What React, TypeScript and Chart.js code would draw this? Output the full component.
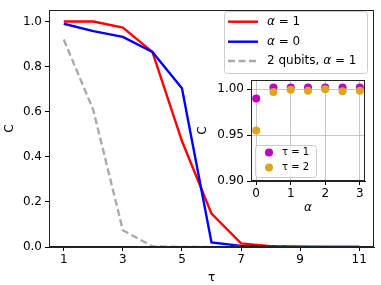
import React, { useEffect, useRef } from 'react';
import { Chart, registerables } from 'chart.js';

Chart.register(...registerables);

// ---- main chart data ----
const tau = [1, 2, 3, 4, 5, 6, 7, 8, 9, 10, 11];
const cAlpha1 = [1.0, 1.0, 0.973, 0.865, 0.47, 0.148, 0.016, 0.004, 0.001, 0, 0];
const cAlpha0 = [0.99, 0.957, 0.932, 0.865, 0.704, 0.02, 0.005, 0.002, 0, 0, 0];
const cTwoQubits = [0.92, 0.607, 0.074, 0.003, 0, 0, 0, 0, 0, 0, 0];
const mainXTicks = [1, 3, 5, 7, 9, 11];
const mainYTicks = [0, 0.2, 0.4, 0.6, 0.8, 1.0];
const mainLabels = ['α = 1', 'α = 0', '2 qubits, α = 1'];

// ---- inset data ----
const alphas = [0, 0.5, 1, 1.5, 2, 2.5, 3];
const cTau1 = [0.99, 1.002, 1.002, 1.002, 1.002, 1.002, 1.002];
const cTau2 = [0.955, 0.997, 0.9997, 0.9986, 1.0, 0.998, 0.9986];
const insetXTicks = [0, 1, 2, 3];
const insetYTicks = [0.9, 0.95, 1.0];
const insetLabels = ['τ = 1', 'τ = 2'];

const FONT = "'DejaVu Sans', sans-serif";

Chart.defaults.font.family = FONT;
Chart.defaults.font.size = 12;
Chart.defaults.color = '#000';

function roundRect(ctx: CanvasRenderingContext2D, x: number, y: number, w: number, h: number, r: number) {
  ctx.beginPath();
  ctx.moveTo(x + r, y);
  ctx.lineTo(x + w - r, y);
  ctx.quadraticCurveTo(x + w, y, x + w, y + r);
  ctx.lineTo(x + w, y + h - r);
  ctx.quadraticCurveTo(x + w, y + h, x + w - r, y + h);
  ctx.lineTo(x + r, y + h);
  ctx.quadraticCurveTo(x, y + h, x, y + h - r);
  ctx.lineTo(x, y + r);
  ctx.quadraticCurveTo(x, y, x + r, y);
  ctx.closePath();
}

// draws text where greek alpha is italic (mathtext style)
function drawLabel(ctx: CanvasRenderingContext2D, text: string, x: number, y: number, size: number) {
  let cx = x;
  ctx.textBaseline = 'middle';
  ctx.textAlign = 'left';
  for (const ch of text) {
    const italic = ch === 'α';
    ctx.font = `${italic ? 'italic ' : ''}${size}px ${FONT}`;
    ctx.fillText(ch, cx, y);
    cx += ctx.measureText(ch).width;
  }
}

const framePlugin = {
  id: 'frame',
  afterDatasetsDraw(chart: any) {
    const { ctx, chartArea: a } = chart;
    ctx.save();
    ctx.strokeStyle = '#222';
    ctx.lineWidth = 1;
    ctx.strokeRect(Math.round(a.left) + 0.5, Math.round(a.top) + 0.5, Math.round(a.right - a.left) - 1, Math.round(a.bottom - a.top) - 1);
    ctx.restore();
  },
};

const mainLegendPlugin = {
  id: 'mainLegend',
  afterDraw(chart: any) {
    const { ctx } = chart;
    ctx.save();
    roundRect(ctx, 224.5, 11.5, 143, 62, 3);
    ctx.fillStyle = 'rgba(255,255,255,0.8)';
    ctx.fill();
    ctx.strokeStyle = '#cccccc';
    ctx.lineWidth = 1;
    ctx.stroke();
    const rows = [21.7, 41.7, 61];
    chart.data.datasets.forEach((ds: any, i: number) => {
      const y = rows[i];
      ctx.beginPath();
      ctx.strokeStyle = ds.borderColor;
      ctx.lineWidth = ds.borderWidth;
      ctx.setLineDash(ds.borderDash || []);
      ctx.moveTo(228, y);
      ctx.lineTo(258, y);
      ctx.stroke();
      ctx.setLineDash([]);
      ctx.fillStyle = '#000';
      drawLabel(ctx, ds.label, 267, y, 12);
    });
    ctx.restore();
  },
};

const insetBgPlugin = {
  id: 'insetBg',
  beforeDraw(chart: any) {
    const { ctx, chartArea: a } = chart;
    ctx.save();
    ctx.fillStyle = '#fff';
    ctx.fillRect(a.left, a.top, a.right - a.left, a.bottom - a.top);
    ctx.restore();
  },
};

const insetLegendPlugin = {
  id: 'insetLegend',
  afterDraw(chart: any) {
    const { ctx } = chart;
    ctx.save();
    roundRect(ctx, 65.5, 75.5, 61, 32, 3);
    ctx.fillStyle = 'rgba(255,255,255,0.8)';
    ctx.fill();
    ctx.strokeStyle = '#cccccc';
    ctx.lineWidth = 1;
    ctx.stroke();
    const rows = [82.5, 97.5];
    chart.data.datasets.forEach((ds: any, i: number) => {
      const y = rows[i];
      ctx.beginPath();
      ctx.fillStyle = ds.backgroundColor;
      ctx.arc(79, y, 4, 0, Math.PI * 2);
      ctx.fill();
      ctx.fillStyle = '#000';
      ctx.font = `10px ${FONT}`;
      ctx.textBaseline = 'middle';
      ctx.textAlign = 'left';
      ctx.fillText(ds.label, 92, y);
    });
    ctx.restore();
  },
};

export default function App() {
  const mainRef = useRef<HTMLCanvasElement>(null);
  const insetRef = useRef<HTMLCanvasElement>(null);

  useEffect(() => {
    const main = new Chart(mainRef.current!, {
      type: 'line',
      data: {
        datasets: [
          {
            label: mainLabels[0],
            data: tau.map((t, i) => ({ x: t, y: cAlpha1[i] })),
            borderColor: '#ff0000',
            borderWidth: 2.4,
            pointRadius: 0,
            order: 3,
          },
          {
            label: mainLabels[1],
            data: tau.map((t, i) => ({ x: t, y: cAlpha0[i] })),
            borderColor: '#0000ff',
            borderWidth: 2.4,
            pointRadius: 0,
            order: 2,
          },
          {
            label: mainLabels[2],
            data: tau.map((t, i) => ({ x: t, y: cTwoQubits[i] })),
            borderColor: '#aaaaaa',
            borderWidth: 2.4,
            borderDash: [7, 3.5],
            pointRadius: 0,
            order: 1,
          },
        ],
      },
      options: {
        responsive: false,
        animation: false,
        events: [],
        layout: { padding: { left: 0, top: 4, right: 7, bottom: 0 } },
        plugins: { legend: { display: false }, tooltip: { enabled: false } },
        scales: {
          x: {
            type: 'linear',
            min: 0.5,
            max: 11.5,
            afterBuildTicks: (s: any) => { s.ticks = mainXTicks.map((v) => ({ value: v })); },
            afterFit: (s: any) => { s.height = 38; },
            grid: { drawOnChartArea: false, drawTicks: true, tickLength: 4, tickColor: '#000' },
            border: { display: true, color: '#222' },
            ticks: { padding: 2, maxRotation: 0, autoSkip: false, callback: (v: any) => String(v), color: '#000', font: { size: 12 } },
            title: { display: true, text: 'τ', font: { size: 12 }, padding: { top: 0, bottom: 0 }, color: '#000' },
          },
          y: {
            type: 'linear',
            min: 0,
            max: 1.05,
            afterBuildTicks: (s: any) => { s.ticks = mainYTicks.map((v) => ({ value: v })); },
            afterFit: (s: any) => { s.width = 49; },
            grid: { drawOnChartArea: false, drawTicks: true, tickLength: 4, tickColor: '#000' },
            border: { display: true, color: '#222' },
            ticks: { padding: 3, autoSkip: false, callback: (v: any) => Number(v).toFixed(1), color: '#000', font: { size: 12 } },
            title: { display: true, text: 'C', font: { size: 12 }, padding: { top: 3, bottom: 0 }, color: '#000' },
          },
        },
      },
      plugins: [framePlugin, mainLegendPlugin],
    } as any);

    const inset = new Chart(insetRef.current!, {
      type: 'scatter',
      data: {
        datasets: [
          {
            label: insetLabels[0],
            data: alphas.map((a, i) => ({ x: a, y: cTau1[i] })),
            backgroundColor: '#bf00bf',
            borderWidth: 0,
            pointRadius: 4,
            order: 2,
          },
          {
            label: insetLabels[1],
            data: alphas.map((a, i) => ({ x: a, y: cTau2[i] })),
            backgroundColor: '#daa520',
            borderWidth: 0,
            pointRadius: 4,
            order: 1,
          },
        ],
      },
      options: {
        responsive: false,
        animation: false,
        events: [],
        layout: { padding: { left: 0, top: 10, right: 16, bottom: 0 } },
        plugins: { legend: { display: false }, tooltip: { enabled: false } },
        scales: {
          x: {
            type: 'linear',
            min: -0.15,
            max: 3.15,
            afterBuildTicks: (s: any) => { s.ticks = insetXTicks.map((v) => ({ value: v })); },
            afterFit: (s: any) => { s.height = 39; },
            grid: { drawOnChartArea: true, color: 'rgba(176,176,176,0.7)', drawTicks: true, tickLength: 4, tickColor: '#000' },
            border: { display: true, color: '#222' },
            ticks: { padding: 2, maxRotation: 0, autoSkip: false, callback: (v: any) => String(v), color: '#000', font: { size: 12 } },
            title: { display: true, text: 'α', font: { size: 12, style: 'italic' }, padding: { top: 0, bottom: 4.5 }, color: '#000' },
          },
          y: {
            type: 'linear',
            min: 0.9,
            max: 1.01,
            afterBuildTicks: (s: any) => { s.ticks = insetYTicks.map((v) => ({ value: v })); },
            afterFit: (s: any) => { s.width = 61; },
            grid: { drawOnChartArea: true, color: 'rgba(176,176,176,0.7)', drawTicks: true, tickLength: 4, tickColor: '#000' },
            border: { display: true, color: '#222' },
            ticks: { padding: 3, autoSkip: false, callback: (v: any) => Number(v).toFixed(2), color: '#000', font: { size: 12 } },
            title: { display: true, text: 'C', font: { size: 12 }, padding: { top: 5.8, bottom: 0 }, color: '#000' },
          },
        },
      },
      plugins: [insetBgPlugin, framePlugin, insetLegendPlugin],
    } as any);

    return () => {
      main.destroy();
      inset.destroy();
    };
  }, []);

  return (
    <div style={{ position: 'absolute', left: 0, top: 0, width: 381, height: 285, background: '#fff' }}>
      <canvas ref={mainRef} width={381} height={285} style={{ position: 'absolute', left: 0, top: 0, width: 381, height: 285 }} />
      <canvas ref={insetRef} width={191} height={150} style={{ position: 'absolute', left: 190, top: 70, width: 191, height: 150 }} />
    </div>
  );
}
